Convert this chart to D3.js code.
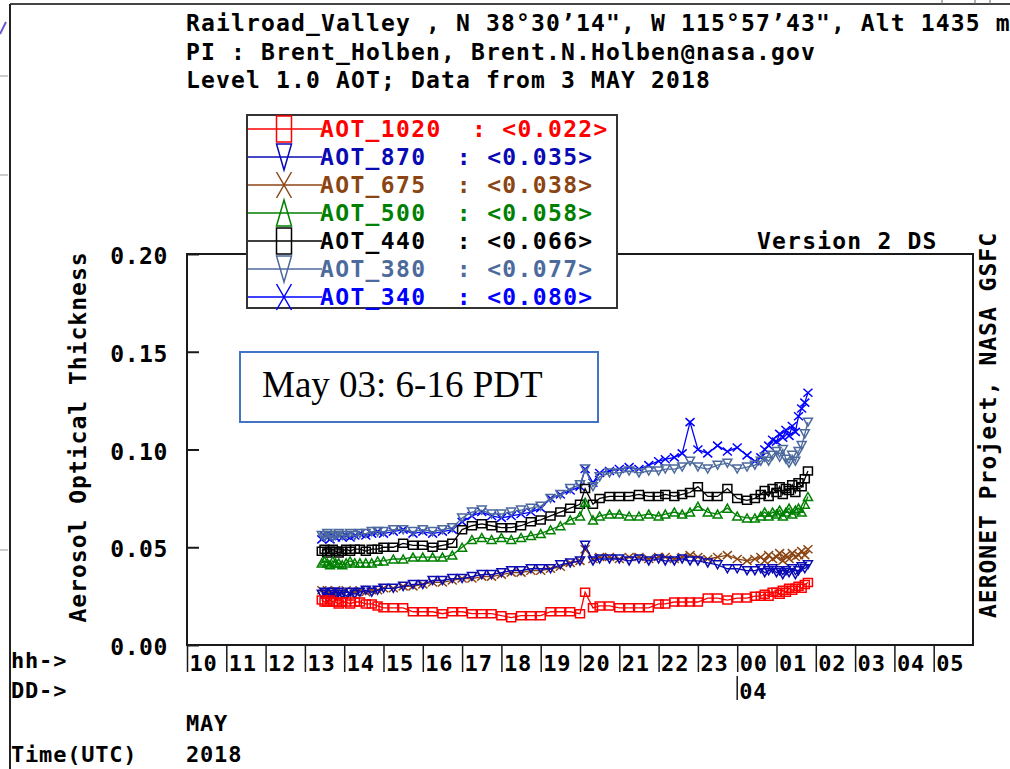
<!DOCTYPE html>
<html><head><meta charset="utf-8">
<script src="https://cdn.jsdelivr.net/npm/d3@7"></script>
<style>
html,body{margin:0;padding:0;background:#fff;}
svg{display:block;}
.mono{font-family:"DejaVu Sans Mono",monospace;font-weight:bold;}
</style></head>
<body><svg id="c" width="1010" height="769"></svg>
<script>
// ---------------- data ----------------
const hours = [13.43,13.50,13.57,13.64,13.71,13.78,13.86,13.95,14.05,14.15,14.27,14.40,14.55,14.70,14.85,
 15.00,15.25,15.50,15.75,16.00,16.25,16.50,16.75,17.00,17.25,17.50,17.75,18.00,18.25,18.50,18.75,19.00,19.25,19.50,19.75,
 20.00,20.13,20.33,20.50,20.75,21.00,21.25,21.50,21.75,22.00,22.17,22.40,22.60,22.80,23.00,23.25,23.50,23.75,24.00,24.25,24.45,
 24.60,24.70,24.80,24.90,25.00,25.08,25.16,25.24,25.32,25.40,25.48,25.56,25.64,25.72,25.80];

const aot1020 = [0.023,0.022,0.022,0.023,0.022,0.022,0.021,0.022,0.022,0.021,0.022,0.022,0.021,0.021,0.020,
 0.019,0.019,0.019,0.017,0.017,0.017,0.016,0.017,0.017,0.016,0.016,0.016,0.015,0.014,0.015,0.015,0.015,0.017,0.017,0.017,
 0.016,0.027,0.019,0.020,0.020,0.019,0.019,0.019,0.019,0.021,0.021,0.022,0.022,0.022,0.022,0.024,0.024,0.023,0.024,0.024,0.025,
 0.025,0.026,0.025,0.027,0.027,0.026,0.028,0.027,0.029,0.028,0.029,0.030,0.029,0.031,0.032];
const aot870 = [0.026,0.027,0.024,0.026,0.027,0.025,0.027,0.026,0.025,0.027,0.026,0.027,0.028,0.027,0.028,
 0.029,0.029,0.030,0.031,0.031,0.033,0.033,0.034,0.034,0.035,0.036,0.036,0.037,0.038,0.038,0.039,0.039,0.039,0.041,0.042,
 0.043,0.051,0.043,0.044,0.044,0.044,0.043,0.044,0.043,0.044,0.043,0.043,0.044,0.043,0.043,0.042,0.041,0.039,0.039,0.038,0.038,
 0.039,0.037,0.038,0.039,0.037,0.038,0.036,0.038,0.037,0.039,0.036,0.038,0.040,0.039,0.041];
const aot675 = [0.028,0.026,0.028,0.027,0.025,0.028,0.026,0.027,0.028,0.026,0.027,0.028,0.027,0.028,0.028,
 0.029,0.029,0.030,0.030,0.031,0.032,0.032,0.033,0.034,0.034,0.035,0.035,0.036,0.037,0.037,0.038,0.038,0.039,0.040,0.042,
 0.043,0.049,0.044,0.045,0.045,0.044,0.045,0.045,0.044,0.045,0.045,0.044,0.045,0.046,0.045,0.044,0.045,0.046,0.044,0.043,0.044,
 0.045,0.043,0.046,0.044,0.045,0.047,0.043,0.046,0.044,0.047,0.045,0.046,0.048,0.046,0.049];
const aot500 = [0.042,0.043,0.042,0.041,0.043,0.042,0.042,0.041,0.042,0.043,0.042,0.042,0.042,0.042,0.043,
 0.043,0.044,0.044,0.045,0.045,0.045,0.045,0.046,0.050,0.054,0.055,0.054,0.055,0.054,0.055,0.056,0.057,0.059,0.061,0.064,
 0.066,0.073,0.064,0.066,0.067,0.067,0.066,0.066,0.067,0.066,0.067,0.068,0.067,0.068,0.071,0.068,0.067,0.070,0.066,0.065,0.065,
 0.066,0.068,0.066,0.068,0.067,0.069,0.066,0.068,0.070,0.067,0.069,0.070,0.068,0.072,0.076];
const aot440 = [0.048,0.049,0.047,0.048,0.049,0.048,0.047,0.048,0.049,0.048,0.049,0.049,0.048,0.049,0.049,
 0.050,0.050,0.052,0.051,0.051,0.050,0.051,0.052,0.059,0.061,0.062,0.061,0.060,0.060,0.061,0.063,0.064,0.066,0.068,0.070,
 0.072,0.080,0.072,0.075,0.076,0.076,0.076,0.077,0.076,0.076,0.077,0.076,0.077,0.078,0.081,0.076,0.076,0.080,0.075,0.074,0.075,
 0.077,0.079,0.076,0.080,0.078,0.081,0.077,0.080,0.079,0.082,0.078,0.083,0.081,0.085,0.089];
const aot380 = [0.056,0.055,0.057,0.056,0.055,0.056,0.057,0.056,0.056,0.057,0.056,0.057,0.057,0.058,0.058,
 0.058,0.059,0.059,0.058,0.059,0.058,0.059,0.060,0.065,0.068,0.069,0.067,0.067,0.068,0.069,0.070,0.071,0.075,0.077,0.080,
 0.082,0.090,0.081,0.086,0.088,0.088,0.089,0.088,0.089,0.089,0.090,0.090,0.091,0.094,0.091,0.090,0.092,0.093,0.090,0.091,0.092,
 0.094,0.096,0.094,0.097,0.099,0.096,0.100,0.095,0.093,0.097,0.094,0.099,0.102,0.108,0.114];
const aot340 = [0.054,0.056,0.055,0.054,0.056,0.055,0.056,0.055,0.056,0.055,0.056,0.057,0.056,0.057,0.058,
 0.057,0.058,0.059,0.057,0.058,0.057,0.058,0.059,0.063,0.066,0.068,0.066,0.065,0.066,0.067,0.068,0.070,0.075,0.077,0.079,
 0.081,0.090,0.083,0.088,0.089,0.090,0.091,0.090,0.092,0.094,0.095,0.096,0.098,0.114,0.100,0.098,0.102,0.099,0.101,0.097,0.094,
 0.096,0.100,0.102,0.105,0.104,0.108,0.106,0.110,0.107,0.112,0.109,0.117,0.121,0.124,0.129];

const seriesNames = ["AOT_1020","AOT_870","AOT_675","AOT_500","AOT_440","AOT_380","AOT_340"];
const seriesMeans = ["0.022","0.035","0.038","0.058","0.066","0.077","0.080"];
const seriesValues = [aot1020,aot870,aot675,aot500,aot440,aot380,aot340];
const seriesColors = ["#ff0000","#0a0ab4","#8b4513","#008000","#000000","#4d6a9c","#0000ff"];
const seriesMarkers = ["square","tridown","x","triup","square","tridown","x"];

const yTicks = [0,0.05,0.10,0.15,0.20];
const xTicks = d3.range(10,30);          // 10 UTC May 3 .. 05 UTC May 4
const headerLines = ["Railroad_Valley , N 38\u00b030\u201914\", W 115\u00b057\u201943\", Alt 1435 m",
  "PI : Brent_Holben, Brent.N.Holben@nasa.gov",
  "Level 1.0 AOT; Data from 3 MAY 2018"];

// ---------------- chart ----------------
const svg = d3.select("#c");
const x = d3.scaleLinear().domain([10,30]).range([187,973]);
const y = d3.scaleLinear().domain([0,0.2]).range([645,254]);
const FR = "#1a1a1a";

function markerPath(type,w,h){
  const a=w/2,b=h/2;
  if(type==="square") return `M${-a},${-b}H${a}V${b}H${-a}Z`;
  if(type==="tridown") return `M${-a},${-b}H${a}L0,${b}Z`;
  if(type==="triup") return `M${-a},${b}H${a}L0,${-b}Z`;
  return `M${-a},${-b}L${a},${b}M${-a},${b}L${a},${-b}`;
}

// outer screenshot border and stray bits
svg.append("line").attr("x1",10).attr("x2",1010).attr("y1",4).attr("y2",4).attr("stroke","#444").attr("stroke-width",2);
svg.append("line").attr("x1",10).attr("x2",10).attr("y1",4).attr("y2",769).attr("stroke","#222").attr("stroke-width",2);
[76,175,550].forEach(v=>svg.append("line").attr("x1",0).attr("x2",8).attr("y1",v).attr("y2",v).attr("stroke","#999"));
svg.append("path").attr("d","M0,34L6,22").attr("stroke","#6a5acd").attr("stroke-width",2).attr("fill","none");
[942,975,990].forEach(v=>svg.append("line").attr("x1",v).attr("x2",v).attr("y1",0).attr("y2",4).attr("stroke","#666"));

// header
svg.selectAll("text.hdr").data(headerLines).join("text").attr("class","mono hdr")
  .attr("x",186).attr("y",(d,i)=>31+i*28.5).attr("font-size",23).attr("letter-spacing",1.15)
  .attr("fill","#000").style("white-space","pre").text(d=>d);

// plot frame
svg.append("rect").attr("x",187).attr("y",254).attr("width",786).attr("height",391)
  .attr("fill","none").attr("stroke",FR).attr("stroke-width",2);

// y axis (inward ticks)
const yAxis = d3.axisLeft(y).tickValues(yTicks).tickFormat(d3.format(".2f")).tickSizeInner(-12).tickSizeOuter(0).tickPadding(19);
const gy = svg.append("g").attr("transform","translate(187,0)").call(yAxis);
gy.select(".domain").remove();
gy.selectAll(".tick line").attr("stroke",FR).attr("stroke-width",2);
gy.selectAll(".tick text").attr("class","mono").attr("font-size",23).attr("letter-spacing",0.6)
  .attr("fill","#000").attr("dy","0.42em");

// x axis
const xAxis = d3.axisBottom(x).tickValues(xTicks).tickFormat(d=>String(d%24).padStart(2,"0")).tickSizeInner(27).tickSizeOuter(0).tickPadding(0);
const gx = svg.append("g").attr("transform","translate(0,645)").call(xAxis);
gx.select(".domain").remove();
gx.selectAll(".tick line").attr("stroke",FR).attr("stroke-width",1.5);
gx.selectAll(".tick text").attr("class","mono").attr("font-size",22).attr("letter-spacing",0.8)
  .attr("fill","#000").attr("text-anchor","start").attr("x",2).attr("y",26).attr("dy",0);

// day label
svg.append("line").attr("x1",x(24)).attr("x2",x(24)).attr("y1",676).attr("y2",700).attr("stroke",FR).attr("stroke-width",1.5);
svg.append("text").attr("class","mono").attr("x",x(24)+2).attr("y",699).attr("font-size",22).attr("letter-spacing",0.8).text("04");

const misc = [["hh->",11,668],["DD->",11,698],["MAY",186,731],["2018",186,762],["Time(UTC)",11,762]];
misc.forEach(m=>svg.append("text").attr("class","mono").attr("x",m[1]).attr("y",m[2])
  .attr("font-size",22).attr("letter-spacing",0.8).attr("fill","#000").text(m[0]));

// axis titles
svg.append("text").attr("class","mono").attr("transform","translate(86,437) rotate(-90)")
  .attr("text-anchor","middle").attr("font-size",23).attr("letter-spacing",1.0).text("Aerosol Optical Thickness");
svg.append("text").attr("class","mono").attr("transform","translate(996,425) rotate(-90)")
  .attr("text-anchor","middle").attr("font-size",23).attr("letter-spacing",1.0).text("AERONET Project, NASA GSFC");
svg.append("text").attr("class","mono").attr("x",757).attr("y",249).attr("font-size",23).attr("letter-spacing",1.2).text("Version 2 DS");

// series (drawn from 340 up to 1020 so that 1020 is on top)
const order = [6,5,4,3,2,1,0];
const line = d3.line().x(d=>x(d[0])).y(d=>y(d[1]));
order.forEach(k=>{
  const pts = hours.map((h,i)=>[h,seriesValues[k][i]]);
  const g = svg.append("g");
  g.append("path").datum(pts).attr("d",line).attr("fill","none").attr("stroke",seriesColors[k]).attr("stroke-width",1.3);
  g.selectAll("path.m").data(pts).join("path").attr("class","m")
    .attr("transform",d=>`translate(${x(d[0])},${y(d[1])})`)
    .attr("d",markerPath(seriesMarkers[k],9,8))
    .attr("fill","none").attr("stroke",seriesColors[k]).attr("stroke-width",1.5);
});

// annotation box
svg.append("rect").attr("x",240).attr("y",352).attr("width",358).attr("height",70)
  .attr("fill","#fff").attr("stroke","#4472c4").attr("stroke-width",2);
svg.append("text").attr("x",262).attr("y",397).attr("font-family","'Liberation Serif','Times New Roman',serif")
  .attr("font-size",37).attr("fill","#000").text("May 03: 6-16 PDT");

// legend
const lg = svg.append("g");
lg.append("rect").attr("x",247).attr("y",115).attr("width",370).attr("height",193)
  .attr("fill","#fff").attr("stroke","#333").attr("stroke-width",2);
seriesNames.forEach((n,i)=>{
  const ry = 129 + i*28, c = seriesColors[i];
  lg.append("line").attr("x1",248).attr("x2",322).attr("y1",ry).attr("y2",ry).attr("stroke",c).attr("stroke-width",1.5);
  lg.append("path").attr("transform",`translate(284,${ry})`).attr("d",markerPath(seriesMarkers[i],15,26))
    .attr("fill","none").attr("stroke",c).attr("stroke-width",1.5);
  lg.append("text").attr("class","mono").attr("x",320).attr("y",ry+8).attr("font-size",23).attr("letter-spacing",1.35)
    .attr("fill",c).style("white-space","pre").text(`${n}  : <${seriesMeans[i]}>`);
});
</script></body></html>
